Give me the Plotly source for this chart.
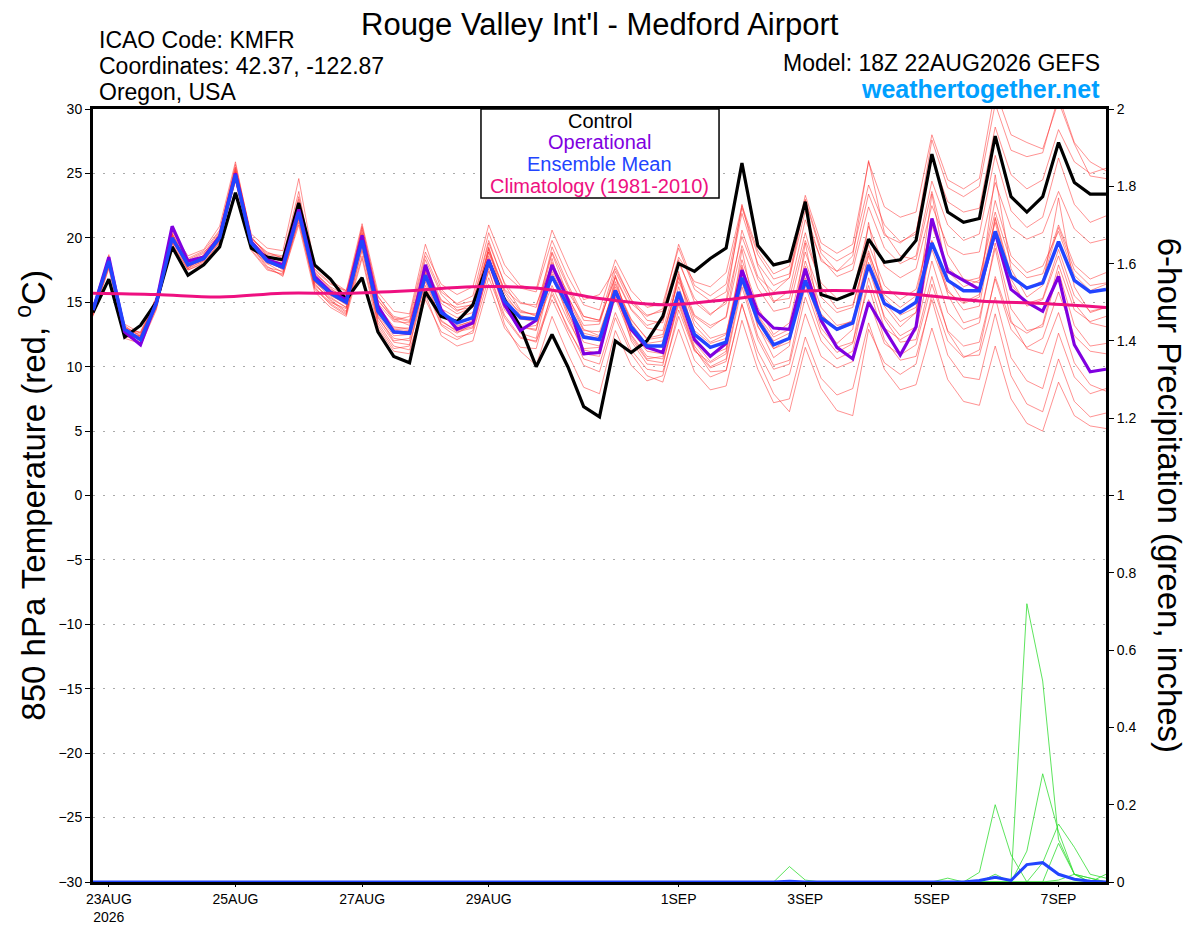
import pandas as pd
import plotly.graph_objects as go

# 6-hourly forecast times, 22AUG2026 18Z .. 7SEP2026 18Z
times = pd.date_range("2026-08-22 18:00", periods=65, freq="6h")
clim_times = times[::4]

# 850 hPa temperature (C)
control = [14.2, 16.8, 12.3, 13.2, 15.0, 19.3, 17.1, 17.9, 19.3, 23.5, 19.2, 18.5, 18.3, 22.7, 17.9, 16.8,
           15.2, 16.9, 12.7, 10.8, 10.3, 15.8, 13.9, 13.5, 14.8, 18.2, 15.2, 13.1, 10.0, 12.5, 10.0, 6.9,
           6.1, 12.0, 11.1, 12.0, 13.9, 18.0, 17.4, 18.4, 19.2, 25.8, 19.4, 17.9, 18.2, 22.8, 15.6, 15.2,
           15.7, 19.9, 18.1, 18.3, 19.8, 26.5, 22.0, 21.2, 21.5, 27.9, 23.2, 22.0, 23.2, 27.4, 24.3, 23.4,
           23.4]
operational = [14.4, 18.5, 12.7, 11.7, 15.0, 20.9, 18.2, 18.5, 20.1, 25.0, 19.7, 18.3, 17.9, 22.2, 17.0, 15.8,
               15.2, 20.2, 14.7, 12.7, 12.6, 17.9, 14.4, 12.9, 13.4, 18.3, 14.8, 12.8, 13.6, 17.9, 15.2, 11.0,
               11.1, 15.9, 12.9, 11.5, 11.1, 15.7, 12.1, 10.8, 11.8, 17.5, 14.2, 13.0, 12.9, 17.6, 13.6, 11.5,
               10.6, 15.0, 12.9, 10.9, 13.1, 21.5, 17.4, 16.7, 16.0, 20.4, 16.0, 15.0, 14.3, 17.0, 11.7, 9.6,
               9.8]
ens_mean = [14.4, 18.2, 12.9, 12.1, 14.9, 20.0, 17.9, 18.4, 20.0, 24.9, 19.6, 18.2, 17.7, 22.0, 16.8, 15.7,
            15.0, 19.8, 14.3, 12.7, 12.6, 17.1, 14.2, 13.4, 13.8, 18.2, 15.1, 13.8, 13.7, 17.0, 14.7, 12.3,
            12.1, 15.9, 13.1, 11.6, 11.6, 15.8, 12.5, 11.5, 11.9, 16.9, 13.6, 11.7, 12.2, 16.7, 13.8, 12.9,
            13.4, 17.9, 14.9, 14.2, 15.0, 19.6, 16.7, 15.9, 15.9, 20.5, 17.0, 16.1, 16.5, 19.7, 16.7, 15.8,
            16.0]
climatology = [15.7, 15.6, 15.4, 15.7, 15.7, 15.9, 16.2, 16.1, 15.3, 14.8, 15.2, 15.8, 15.9, 15.6, 15.1, 14.9,
               14.6]

m01 = [14.6, 18.0, 12.6, 12.4, 15.2, 19.8, 17.6, 18.7, 20.3, 25.3, 19.9, 18.9, 18.4, 23.2, 17.6, 16.5, 15.8,
       20.6, 15.4, 13.9, 13.6, 18.6, 15.8, 14.9, 15.5, 20.4, 17.2, 16.1, 15.8, 19.8, 17.0, 14.8, 14.4,
       18.3, 15.9, 14.6, 14.9, 19.2, 16.0, 15.1, 15.8, 21.9, 18.0, 16.3, 16.9, 22.1, 18.2, 17.4, 18.0,
       23.4, 20.2, 19.6, 20.5, 26.2, 22.8, 22.0, 22.3, 28.6, 24.9, 23.8, 24.5, 28.4, 25.9, 25.0, 25.4]
m02 = [14.0, 17.6, 12.2, 11.8, 14.6, 19.5, 17.5, 18.1, 19.6, 24.6, 19.2, 18.0, 17.9, 22.4, 17.2, 16.2, 15.5,
       20.8, 15.2, 13.6, 13.9, 18.9, 16.4, 15.6, 16.2, 21.0, 17.9, 16.3, 16.0, 20.6, 17.8, 15.2, 15.6,
       17.6, 15.2, 14.0, 14.3, 18.5, 16.6, 16.2, 17.3, 22.5, 19.0, 17.2, 17.8, 23.3, 19.6, 18.8, 19.5,
       25.9, 22.4, 21.6, 22.0, 28.0, 24.5, 23.8, 24.6, 31.5, 28.0, 27.4, 26.9, 30.6, 27.3, 24.8, 24.6]
m03 = [14.3, 18.4, 13.1, 12.0, 14.8, 20.2, 18.1, 18.6, 20.1, 25.1, 19.4, 17.8, 17.0, 21.4, 16.0, 14.9, 14.1,
       19.2, 13.6, 11.9, 11.7, 16.1, 13.2, 12.3, 12.6, 16.9, 13.8, 12.2, 12.0, 15.6, 13.1, 10.6, 10.2,
       14.2, 11.3, 9.8, 9.6, 13.9, 10.5, 9.2, 9.7, 14.8, 11.2, 8.9, 9.4, 14.1, 10.8, 9.9, 10.4,
       15.2, 11.8, 10.9, 11.7, 16.4, 12.8, 11.6, 11.9, 16.8, 12.9, 11.5, 12.2, 15.8, 12.4, 11.2, 11.0]
m04 = [14.5, 18.3, 12.8, 11.6, 14.4, 19.8, 17.8, 18.3, 19.9, 24.8, 19.0, 17.5, 17.2, 21.6, 16.1, 15.0, 14.5,
       19.0, 13.8, 12.2, 12.0, 16.6, 13.5, 12.8, 13.1, 17.4, 14.0, 12.3, 11.9, 15.2, 12.6, 10.1, 9.6,
       13.8, 11.0, 9.3, 8.8, 12.9, 9.6, 8.2, 8.5, 13.6, 9.8, 7.2, 7.5, 12.3, 9.1, 7.8, 8.3,
       13.4, 9.8, 8.2, 8.6, 13.0, 9.0, 7.3, 7.0, 11.6, 7.5, 5.6, 5.0, 8.8, 6.2, 5.4, 5.2]
m05 = [14.2, 18.7, 12.4, 11.9, 15.3, 20.4, 18.0, 18.5, 20.4, 25.7, 20.1, 18.6, 18.1, 23.0, 16.4, 15.2, 14.3,
       20.3, 13.9, 12.0, 12.2, 17.9, 14.1, 13.0, 13.4, 19.3, 15.0, 13.1, 12.8, 18.4, 14.2, 11.3, 11.0,
       17.1, 12.4, 10.6, 10.8, 17.4, 11.9, 10.4, 11.2, 19.1, 13.2, 10.7, 11.6, 19.6, 13.4, 11.8, 12.9,
       21.2, 14.7, 13.1, 14.2, 23.4, 16.9, 15.0, 15.6, 24.9, 17.6, 15.4, 16.3, 23.1, 16.2, 14.2, 14.6]
m06 = [14.7, 17.9, 13.3, 12.6, 15.0, 19.6, 18.3, 18.9, 20.0, 24.4, 19.8, 18.6, 18.2, 22.5, 17.5, 16.4, 15.9,
       19.5, 15.1, 13.8, 13.5, 17.4, 15.1, 14.6, 14.8, 18.9, 16.0, 14.9, 14.8, 17.9, 15.8, 13.9, 13.6,
       16.9, 14.4, 13.0, 12.8, 17.2, 14.0, 13.2, 13.8, 19.4, 16.1, 14.3, 14.6, 19.8, 16.5, 15.3, 15.7,
       20.9, 17.8, 16.9, 17.6, 22.5, 19.4, 18.7, 18.9, 24.3, 20.8, 19.9, 20.4, 23.6, 20.7, 19.6, 19.9]
m07 = [14.1, 17.8, 12.5, 12.3, 14.7, 20.1, 17.7, 18.2, 19.8, 24.5, 19.3, 17.7, 17.4, 21.2, 16.3, 15.3, 14.6,
       19.9, 14.0, 12.4, 12.5, 16.3, 13.3, 12.6, 13.3, 17.9, 14.4, 13.0, 13.2, 16.3, 13.6, 11.4, 11.5,
       15.3, 12.2, 10.5, 10.3, 14.8, 11.3, 9.9, 10.4, 16.2, 12.1, 9.8, 10.2, 15.4, 12.0, 10.6, 11.2,
       16.9, 13.0, 12.1, 12.8, 18.2, 14.2, 12.9, 13.4, 19.6, 14.5, 12.8, 13.1, 17.4, 13.2, 11.6, 11.8]
m08 = [13.9, 18.1, 12.9, 12.5, 15.1, 20.3, 18.4, 19.0, 20.6, 25.5, 20.3, 19.2, 19.0, 24.6, 17.8, 16.7, 15.9,
       21.1, 15.8, 14.3, 14.1, 19.5, 16.0, 14.8, 15.1, 19.8, 16.4, 14.4, 13.9, 18.8, 15.5, 12.9, 12.4,
       16.4, 13.7, 12.1, 12.3, 16.9, 13.2, 11.9, 12.5, 18.3, 14.6, 12.5, 13.4, 18.9, 15.4, 14.2, 14.6,
       19.5, 16.3, 15.2, 16.0, 20.9, 17.7, 16.6, 16.9, 22.0, 18.1, 16.9, 17.2, 21.0, 17.9, 16.8, 17.3]
m09 = [14.4, 18.6, 13.0, 12.2, 14.6, 19.9, 17.9, 18.4, 19.7, 24.9, 19.5, 18.1, 17.6, 21.9, 16.5, 15.1, 14.2,
       18.6, 13.4, 11.6, 11.3, 15.2, 12.7, 12.1, 12.8, 17.6, 13.3, 11.2, 10.1, 13.9, 11.0, 8.4, 7.9,
       12.8, 10.1, 8.9, 9.3, 14.4, 11.2, 10.3, 11.0, 17.2, 13.1, 11.4, 12.2, 17.8, 14.1, 12.8, 13.4,
       18.6, 15.0, 13.5, 14.2, 19.8, 15.6, 13.4, 13.8, 19.2, 13.6, 11.4, 11.0, 14.2, 10.3, 8.6, 8.1]
m10 = [14.6, 18.2, 12.7, 12.0, 14.9, 20.0, 17.6, 18.2, 20.2, 25.0, 19.7, 18.4, 18.0, 22.2, 17.0, 15.9, 15.3,
       20.0, 14.7, 13.1, 12.9, 17.3, 14.5, 13.8, 14.2, 18.4, 15.4, 14.2, 14.1, 17.6, 15.2, 12.8, 12.7,
       16.2, 13.6, 12.2, 12.5, 16.6, 13.9, 13.0, 13.9, 20.6, 17.0, 15.8, 16.9, 22.9, 18.8, 17.4, 18.6,
       26.0, 20.4, 18.6, 18.3, 23.6, 18.7, 16.8, 16.5, 21.2, 16.4, 14.9, 15.3, 19.1, 15.5, 14.3, 14.6]
m11 = [14.3, 18.0, 12.3, 12.4, 15.2, 20.1, 18.2, 18.6, 20.1, 25.1, 19.5, 18.0, 17.3, 21.6, 16.6, 15.6, 14.8,
       19.6, 14.4, 13.0, 13.0, 17.0, 14.0, 13.2, 13.5, 18.0, 14.6, 13.1, 12.9, 16.9, 14.2, 11.9, 11.6,
       15.6, 12.5, 10.8, 10.6, 15.0, 11.4, 9.6, 9.7, 14.9, 10.6, 7.9, 6.5, 11.5, 8.3, 6.6, 6.2,
       12.9, 10.3, 9.4, 10.2, 15.6, 12.0, 10.7, 11.3, 17.0, 13.4, 12.6, 13.3, 17.9, 14.4, 13.5, 13.9]
m12 = [14.0, 17.7, 12.8, 12.7, 15.4, 20.5, 18.6, 19.1, 20.9, 25.9, 20.0, 18.7, 18.5, 22.8, 17.4, 16.1, 15.2,
       20.4, 14.6, 12.9, 12.8, 17.7, 14.9, 14.1, 14.6, 19.1, 15.7, 14.0, 13.6, 18.1, 15.4, 13.2, 13.3,
       17.4, 14.9, 13.9, 14.5, 19.5, 16.3, 15.5, 16.4, 22.3, 18.7, 16.8, 17.2, 23.0, 19.1, 18.2, 18.9,
       24.1, 21.0, 19.7, 20.3, 27.6, 23.9, 23.2, 24.0, 30.4, 26.8, 26.3, 26.6, 31.0, 27.4, 25.9, 25.2]
m13 = [14.5, 18.1, 13.2, 12.3, 14.8, 20.2, 17.8, 18.3, 19.9, 24.7, 19.6, 18.3, 17.8, 22.1, 16.9, 15.8, 15.1,
       19.4, 14.9, 13.5, 13.4, 17.8, 15.2, 14.3, 14.9, 19.6, 16.5, 15.0, 14.6, 18.9, 16.2, 13.6, 13.5,
       17.0, 14.5, 13.2, 13.6, 18.3, 15.0, 14.0, 15.1, 22.6, 17.8, 15.1, 15.3, 20.4, 16.2, 14.5, 14.8,
       19.0, 15.3, 14.0, 14.6, 19.1, 15.8, 14.9, 15.4, 21.6, 17.2, 16.0, 16.7, 20.8, 17.5, 16.3, 16.5]
m14 = [14.2, 18.4, 12.6, 12.1, 15.0, 19.7, 18.0, 18.5, 20.2, 25.2, 19.8, 18.3, 17.5, 22.0, 16.2, 14.8, 14.0,
       19.8, 13.2, 11.4, 11.6, 16.8, 13.6, 12.7, 13.0, 18.6, 14.8, 12.6, 12.2, 17.2, 13.9, 11.0, 10.8,
       16.0, 12.0, 10.2, 10.1, 15.2, 11.6, 10.0, 10.6, 16.6, 12.4, 10.1, 10.5, 16.3, 12.6, 11.1, 11.8,
       18.1, 13.7, 11.9, 12.1, 17.0, 12.7, 10.8, 10.9, 15.4, 10.7, 8.9, 8.3, 12.6, 9.2, 7.9, 8.3]
m15 = [14.3, 17.9, 13.0, 12.6, 15.3, 20.1, 18.2, 18.8, 20.5, 25.4, 20.0, 18.8, 18.6, 23.6, 17.3, 16.0, 15.4,
       20.9, 15.5, 13.7, 13.2, 18.3, 15.6, 14.4, 14.6, 19.2, 15.9, 14.3, 14.0, 19.3, 16.4, 13.9, 13.6,
       17.8, 15.2, 13.6, 13.4, 18.1, 15.3, 14.1, 14.9, 20.1, 16.8, 15.0, 15.9, 21.4, 18.4, 17.0, 17.5,
       22.4, 19.2, 18.0, 18.6, 24.4, 21.0, 19.8, 20.3, 26.4, 22.1, 20.8, 21.6, 26.2, 22.6, 21.2, 21.7]
m16 = [14.6, 18.5, 12.5, 11.8, 14.5, 19.6, 17.5, 18.0, 19.7, 24.5, 19.1, 17.6, 17.1, 21.0, 15.8, 14.6, 13.9,
       18.4, 13.0, 11.2, 11.0, 15.6, 12.4, 11.6, 12.0, 16.4, 13.0, 11.5, 11.4, 15.9, 12.9, 10.9, 11.2,
       15.8, 13.0, 11.8, 12.0, 17.0, 13.6, 12.2, 12.6, 17.7, 14.0, 12.3, 12.9, 18.2, 14.6, 13.2, 13.5,
       17.6, 13.9, 12.4, 13.1, 19.7, 16.0, 14.4, 14.7, 21.5, 16.8, 14.7, 15.2, 18.6, 14.9, 13.4, 13.1]
m17 = [14.4, 18.0, 13.1, 12.4, 14.8, 19.9, 17.9, 18.4, 20.0, 24.8, 19.4, 18.2, 17.9, 22.3, 16.6, 15.4, 14.6,
       19.7, 14.2, 12.6, 12.7, 17.5, 14.3, 13.4, 13.9, 18.1, 15.1, 13.7, 13.5, 17.0, 14.6, 12.4, 12.2,
       15.4, 12.8, 11.2, 11.0, 15.6, 12.2, 10.9, 11.4, 17.9, 13.6, 11.4, 11.9, 16.9, 13.0, 11.5, 11.9,
       16.3, 12.1, 10.5, 10.8, 15.2, 10.9, 9.2, 9.0, 14.1, 9.3, 7.1, 6.5, 10.6, 7.3, 6.1, 6.4]
m18 = [14.3, 18.2, 12.9, 12.2, 15.0, 20.3, 17.8, 18.3, 19.8, 25.0, 19.6, 18.2, 17.7, 22.1, 16.9, 15.5, 14.9,
       20.2, 14.4, 12.7, 12.5, 17.2, 14.0, 13.1, 13.6, 18.9, 15.3, 13.9, 13.8, 17.4, 14.9, 12.6, 12.3,
       16.6, 13.4, 11.7, 11.5, 16.2, 12.8, 11.8, 12.2, 17.5, 13.9, 12.0, 12.6, 17.2, 14.0, 13.0, 13.6,
       18.8, 15.6, 14.6, 15.5, 21.3, 17.4, 16.2, 16.7, 22.9, 18.6, 17.3, 17.8, 20.5, 17.1, 15.9, 16.4]
members = [m01, m02, m03, m04, m05, m06, m07, m08, m09, m10, m11, m12, m13, m14, m15, m16, m17, m18]

# 6-hour precipitation (inches)
p01 = [0] * 59 + [0.72, 0.52, 0.11, 0.02, 0.01, 0.0]
p02 = [0] * 56 + [0.025, 0.2, 0.07, 0.0, 0.0, 0.1, 0.02, 0.0, 0.02]
p03 = [0] * 58 + [0.0, 0.08, 0.28, 0.13, 0.02, 0.0, 0.0]
p04 = [0] * 59 + [0.0, 0.05, 0.15, 0.09, 0.02, 0.01]
p05 = [0] * 43 + [0.0, 0.04, 0.005] + [0] * 8 + [0.01, 0.0, 0.0, 0.02] + [0] * 7
p06 = [0] * 60 + [0.0, 0.005, 0.02, 0.01, 0.0]
precip_members = [p01, p02, p03, p04, p05, p06]
precip_mean = [0] * 44 + [0.002] + [0] * 11 + [0.004, 0.012, 0.004, 0.045, 0.05, 0.02, 0.007, 0.002, 0.0]

tick_dates = ["2026-08-23", "2026-08-25", "2026-08-27", "2026-08-29",
              "2026-09-01", "2026-09-03", "2026-09-05", "2026-09-07"]
tick_text = ["23AUG<br>2026", "25AUG", "27AUG", "29AUG", "1SEP", "3SEP", "5SEP", "7SEP"]

FONT = "Liberation Sans, Arial, sans-serif"
RED = "rgba(255,40,40,0.85)"
PURPLE = "#8000e0"
BLUE = "#2244ff"
PINK = "#ee1080"

fig = go.Figure()

for m in members:
    fig.add_trace(go.Scatter(x=times, y=m, mode="lines",
                             line=dict(color=RED, width=0.6), showlegend=False, hoverinfo="skip"))

for p in precip_members:
    fig.add_trace(go.Scatter(x=times, y=p, mode="lines", yaxis="y2",
                             line=dict(color="#33dd33", width=0.8), showlegend=False, hoverinfo="skip"))
fig.add_trace(go.Scatter(x=times, y=precip_mean, mode="lines", yaxis="y2",
                         line=dict(color=BLUE, width=3), showlegend=False))

fig.add_trace(go.Scatter(x=times, y=control, mode="lines", line=dict(color="black", width=3.2), showlegend=False))
fig.add_trace(go.Scatter(x=times, y=operational, mode="lines", line=dict(color=PURPLE, width=3.2), showlegend=False))
fig.add_trace(go.Scatter(x=times, y=ens_mean, mode="lines", line=dict(color=BLUE, width=3.5), showlegend=False))
fig.add_trace(go.Scatter(x=clim_times, y=climatology, mode="lines", line=dict(color=PINK, width=3, shape="spline"),
                         showlegend=False))

# legend box, top centre of plot
fig.add_shape(type="rect", xref="paper", yref="paper", x0=0.383, x1=0.618, y0=0.885, y1=1.0,
              line=dict(color="black", width=1.5), fillcolor="white", layer="above")
legend_rows = [("Control", "black", 0.9845), ("Operational", PURPLE, 0.957),
               ("Ensemble Mean", BLUE, 0.929), ("Climatology (1981-2010)", PINK, 0.901)]


def note(text, x, y, size, color="black", xanchor="center", angle=0):
    return dict(text=text, x=x, y=y, xref="paper", yref="paper", showarrow=False,
                xanchor=xanchor, yanchor="middle", textangle=angle,
                font=dict(size=size, color=color, family=FONT))


annotations = [note(txt, 0.5, yy, 20, col) for txt, col, yy in legend_rows]

# header texts and axis titles (paper coords relative to the plot area)
annotations += [
    note("Rouge Valley Int'l - Medford Airport", 0.5, 1.1099, 31),
    note("ICAO Code: KMFR", 0.004, 1.089, 23, xanchor="left"),
    note("Coordinates: 42.37, -122.87", 0.004, 1.0556, 23, xanchor="left"),
    note("Oregon, USA", 0.004, 1.022, 23, xanchor="left"),
    note("Model: 18Z 22AUG2026 GEFS", 0.996, 1.0595, 23, xanchor="right"),
    note("<b>weathertogether.net</b>", 0.996, 1.0259, 25, color="#00a0ff", xanchor="right"),
    note("850 hPa Temperature (red, <sup>o</sup>C)", -0.062, 0.5, 33, angle=-90),
    note("6-hour Precipitation (green, inches)", 1.063, 0.5, 33, angle=90),
]

# the page body adds an 8px offset, so the figure is 8px smaller than the window
fig.update_layout(
    width=1192, height=919,
    margin=dict(l=85, r=94, t=101, b=45),
    paper_bgcolor="white", plot_bgcolor="white",
    font=dict(family=FONT, color="black"),
    showlegend=False,
    annotations=annotations,
    xaxis=dict(
        type="date", range=[times[0], times[-1]], automargin=False,
        tickvals=tick_dates, ticktext=tick_text, tickfont=dict(size=14),
        ticks="outside", ticklen=2, tickcolor="black",
        showgrid=False, zeroline=False,
        showline=True, mirror=True, linewidth=3, linecolor="black",
    ),
    yaxis=dict(
        range=[-30, 30], dtick=5, tick0=-30, tickfont=dict(size=14), automargin=False,
        ticks="outside", ticklen=5, tickcolor="black",
        showgrid=True, gridcolor="#aaaaaa", griddash="1.5px,8.5px", gridwidth=1.3,
        zeroline=False, showline=True, linewidth=3, linecolor="black",
    ),
    yaxis2=dict(
        range=[0, 2], dtick=0.2, tick0=0, overlaying="y", side="right", tickfont=dict(size=14),
        automargin=False, ticks="outside", ticklen=5, tickcolor="black",
        showgrid=False, zeroline=False, showline=True, linewidth=3, linecolor="black",
    ),
)

fig.write_html("out.html")
